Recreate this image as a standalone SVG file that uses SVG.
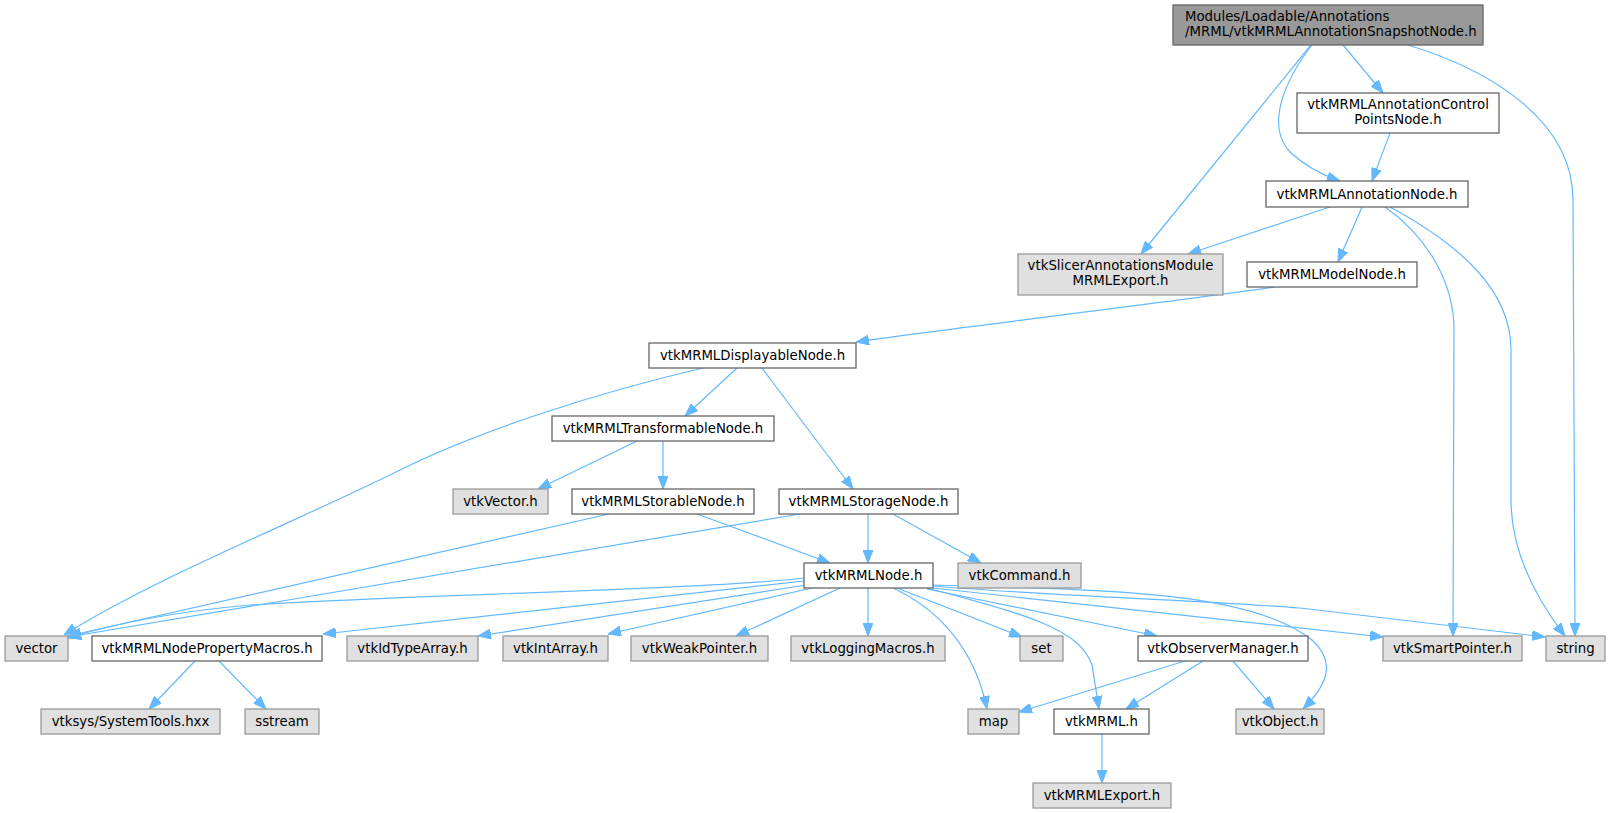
<svg xmlns="http://www.w3.org/2000/svg" width="1610" height="813" viewBox="0 0 1610 813">
<style>
.bg{fill:#ffffff}
rect.w{fill:#ffffff;stroke:#666666;stroke-width:1.3}
rect.g{fill:#e0e0e0;stroke:#999999;stroke-width:1.3}
rect.r{fill:#999999;stroke:#666666;stroke-width:1.3}
text{font-family:"DejaVu Sans","Liberation Sans",sans-serif;font-size:13.3px;fill:#000000;text-anchor:middle}
text.l{text-anchor:start}
#edges path{fill:none;stroke:#63b8ff;stroke-width:1.2;marker-end:url(#ah)}
</style>
<defs>
<marker id="ah" markerUnits="userSpaceOnUse" viewBox="0 0 13 10" refX="13" refY="5" markerWidth="13" markerHeight="10" orient="auto">
<path d="M0,0 L13,5 L0,10 z" fill="#63b8ff" stroke="#63b8ff"/>
</marker>
</defs>
<rect class="bg" x="0" y="0" width="1610" height="813"/>
<g id="edges">
<path d="M1311,45 L1141,254"/>
<path d="M1312,45 C1285,80 1265,125 1290,152 C1305,166 1322,175 1340,181"/>
<path d="M1343,45 L1383,93"/>
<path d="M1408,45 C1490,70 1573,120 1573,200 L1575,636"/>
<path d="M1390,133 L1372,181"/>
<path d="M1330,207 L1188,254"/>
<path d="M1362,207 L1338,262"/>
<path d="M1385,207 C1425,235 1454,280 1454,330 L1453,636"/>
<path d="M1390,207 C1460,245 1511,290 1511,350 L1511,500 C1511,560 1545,610 1565,636"/>
<path d="M1275,287 C1150,305 950,328 856,342"/>
<path d="M703,368 C600,392 480,430 400,470 C300,520 150,580 64,635"/>
<path d="M737,368 L685,416"/>
<path d="M762,368 L853,489"/>
<path d="M637,441 L538,489"/>
<path d="M663,441 L663,489"/>
<path d="M609,514 L68,636"/>
<path d="M697,514 L830,563"/>
<path d="M800,514 L68,637"/>
<path d="M868,514 L868,563"/>
<path d="M893,514 L981,563"/>
<path d="M804,578 C700,590 400,595 250,605 C170,612 110,625 68,638"/>
<path d="M804,581 L323,634"/>
<path d="M806,585 L478,636"/>
<path d="M812,588 L608,634"/>
<path d="M840,588 L736,636"/>
<path d="M868,588 L868,636"/>
<path d="M897,588 L1022,637"/>
<path d="M893,588 C940,610 975,650 987,709"/>
<path d="M927,588 C1030,615 1080,630 1092,665 L1099,709"/>
<path d="M927,589 L1157,636"/>
<path d="M933,585 C1100,590 1250,590 1312,640 C1340,665 1322,690 1303,709"/>
<path d="M933,588 L1383,637"/>
<path d="M933,586 C1050,596 1200,600 1300,608 L1545,637"/>
<path d="M1185,661 L1019,712"/>
<path d="M1203,661 L1126,709"/>
<path d="M1233,661 L1274,709"/>
<path d="M1102,734 L1102,783"/>
<path d="M195,661 L149,709"/>
<path d="M219,661 L266,709"/>
</g>
<g id="root"><rect class="r" x="1173" y="5" width="310" height="40"/><text class="l" x="1185" y="20.5">Modules/Loadable/Annotations</text><text class="l" x="1185" y="35.5">/MRML/vtkMRMLAnnotationSnapshotNode.h</text></g>
<g id="controlpoints"><rect class="w" x="1297" y="93" width="202" height="40"/><text x="1398" y="108.5">vtkMRMLAnnotationControl</text><text x="1398" y="123.5">PointsNode.h</text></g>
<g id="annotationnode"><rect class="w" x="1266" y="181" width="202" height="26"/><text x="1367" y="198.5">vtkMRMLAnnotationNode.h</text></g>
<g id="slicerexport"><rect class="g" x="1018" y="254" width="205" height="41"/><text x="1120.5" y="270">vtkSlicerAnnotationsModule</text><text x="1120.5" y="285">MRMLExport.h</text></g>
<g id="modelnode"><rect class="w" x="1247" y="262" width="170" height="25"/><text x="1332" y="279">vtkMRMLModelNode.h</text></g>
<g id="displayable"><rect class="w" x="649" y="343" width="207" height="25"/><text x="752.5" y="360">vtkMRMLDisplayableNode.h</text></g>
<g id="transformable"><rect class="w" x="552" y="416" width="222" height="25"/><text x="663" y="433">vtkMRMLTransformableNode.h</text></g>
<g id="vtkvector"><rect class="g" x="453" y="489" width="95" height="25"/><text x="500.5" y="506">vtkVector.h</text></g>
<g id="storable"><rect class="w" x="572" y="489" width="182" height="25"/><text x="663" y="506">vtkMRMLStorableNode.h</text></g>
<g id="storage"><rect class="w" x="779" y="489" width="179" height="25"/><text x="868.5" y="506">vtkMRMLStorageNode.h</text></g>
<g id="mrmlnode"><rect class="w" x="804" y="563" width="129" height="25"/><text x="868.5" y="580">vtkMRMLNode.h</text></g>
<g id="vtkcommand"><rect class="g" x="958" y="563" width="123" height="25"/><text x="1019.5" y="580">vtkCommand.h</text></g>
<g id="vector"><rect class="g" x="5" y="636" width="63" height="25"/><text x="36.5" y="653">vector</text></g>
<g id="propmacros"><rect class="w" x="92" y="636" width="230" height="25"/><text x="207" y="653">vtkMRMLNodePropertyMacros.h</text></g>
<g id="idtypearray"><rect class="g" x="347" y="636" width="131" height="25"/><text x="412.5" y="653">vtkIdTypeArray.h</text></g>
<g id="intarray"><rect class="g" x="503" y="636" width="105" height="25"/><text x="555.5" y="653">vtkIntArray.h</text></g>
<g id="weakpointer"><rect class="g" x="631" y="636" width="137" height="25"/><text x="699.5" y="653">vtkWeakPointer.h</text></g>
<g id="logging"><rect class="g" x="791" y="636" width="154" height="25"/><text x="868" y="653">vtkLoggingMacros.h</text></g>
<g id="set"><rect class="g" x="1020" y="636" width="43" height="25"/><text x="1041.5" y="653">set</text></g>
<g id="observer"><rect class="w" x="1138" y="636" width="170" height="25"/><text x="1223" y="653">vtkObserverManager.h</text></g>
<g id="smartpointer"><rect class="g" x="1383" y="636" width="139" height="25"/><text x="1452.5" y="653">vtkSmartPointer.h</text></g>
<g id="string"><rect class="g" x="1546" y="636" width="59" height="25"/><text x="1575.5" y="653">string</text></g>
<g id="vtksys"><rect class="g" x="41" y="709" width="179" height="25"/><text x="130.5" y="726">vtksys/SystemTools.hxx</text></g>
<g id="sstream"><rect class="g" x="245" y="709" width="74" height="25"/><text x="282" y="726">sstream</text></g>
<g id="map"><rect class="g" x="968" y="709" width="51" height="25"/><text x="993.5" y="726">map</text></g>
<g id="vtkmrml"><rect class="w" x="1054" y="709" width="95" height="25"/><text x="1101.5" y="726">vtkMRML.h</text></g>
<g id="vtkobject"><rect class="g" x="1236" y="709" width="88" height="25"/><text x="1280" y="726">vtkObject.h</text></g>
<g id="mrmlexport"><rect class="g" x="1033" y="783" width="138" height="25"/><text x="1102" y="800">vtkMRMLExport.h</text></g>
</svg>
